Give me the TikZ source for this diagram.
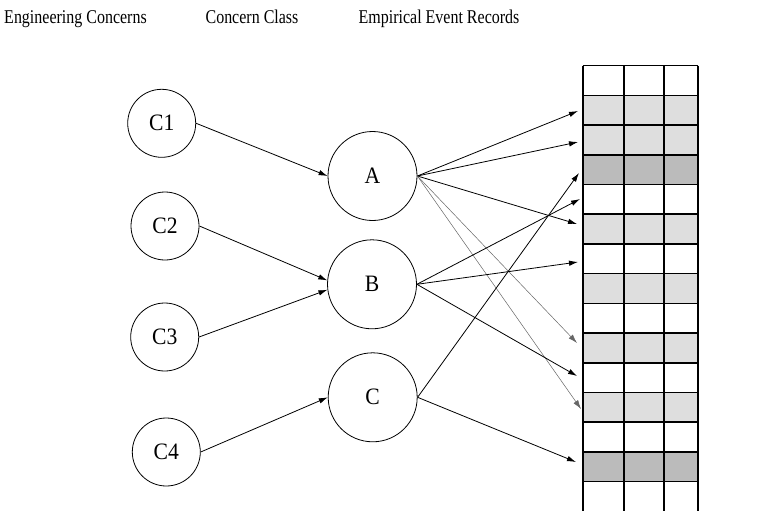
\documentclass[tikz,border=0pt]{standalone}
\usepackage{fontspec}
\setmainfont{Liberation Serif}
\newfontfamily\hdfont[FakeStretch=0.82]{Liberation Serif}
\newfontfamily\lbfont[FakeStretch=0.92]{Liberation Serif}
\usetikzlibrary{arrows.meta}
\definecolor{lightcell}{HTML}{DEDEDE}
\definecolor{darkcell}{HTML}{BBBBBB}
\begin{document}
\begin{tikzpicture}[x=1pt,y=-1pt,
  header/.style={anchor=base,font=\hdfont\fontsize{19.5}{21}\selectfont,inner sep=0pt},
  small/.style={circle,draw,line width=0.8pt,minimum size=68pt,inner sep=0pt,font=\lbfont\fontsize{23.5}{25}\selectfont},
  big/.style={circle,draw,line width=0.8pt,minimum size=89pt,inner sep=0pt,font=\lbfont\fontsize{23.5}{25}\selectfont},
  link/.style={line width=0.8pt,-{Latex[length=9pt,width=5.5pt]}},
  thinlink/.style={line width=0.5pt,draw=black!60,-{Latex[length=9pt,width=5.5pt]}},
  gridline/.style={line width=1.6pt}]
\useasboundingbox (0,0) rectangle (776,511);
% headers
\node[header] (h1) at (75.5,24) {Engineering Concerns};
\node[header] (h2) at (252,24) {Concern Class};
\node[header] (h3) at (439,24) {Empirical Event Records};
% grid fills
\def\gx{582.7}\def\gxr{697.7}
\foreach \i/\c in {1/lightcell,2/lightcell,3/darkcell,5/lightcell,7/lightcell,9/lightcell,11/lightcell,13/darkcell}{
  \fill[\c] (\gx,65.7+29.7*\i) rectangle (\gxr,65.7+29.7*\i+29.7);
}
% grid lines
\foreach \i in {0,...,14}{
  \draw[gridline] (\gx,65.7+29.7*\i) -- (\gxr,65.7+29.7*\i);
}
\foreach \x in {582.7,623.7,664,697.7}{
  \draw[gridline] (\x,65.7) -- (\x,512);
}
% concern nodes
\node[small] (C1) at (161.7,123.3) {C1};
\node[small] (C2) at (165,226) {C2};
\node[small] (C3) at (164.7,337) {C3};
\node[small] (C4) at (166.3,452) {C4};
\node[big] (A) at (372.5,176) {A};
\node[big] (B) at (372,284.3) {B};
\node[big] (C) at (372.7,397.3) {C};
% row targets
\coordinate (r1) at (578,111);
\coordinate (r2) at (578,142);
\coordinate (r3) at (579,173);
\coordinate (r4) at (580,199);
\coordinate (r5) at (577,224);
\coordinate (r6) at (578,262);
\coordinate (r9) at (577,343);
\coordinate (r10) at (577,376);
\coordinate (r11) at (581,409);
\coordinate (r13) at (576,462);
% connectors
\draw[link] (C1.east) -- (A.west);
\draw[link] (C2.east) -- (B.175);
\draw[link] (C3.east) -- (B.187);
\draw[link] (C4.east) -- (C.west);
\draw[link] (A.east) -- (r1);
\draw[link] (A.east) -- (r2);
\draw[link] (A.east) -- (r5);
\draw[thinlink] (A.east) -- (r9);
\draw[thinlink] (A.east) -- (r11);
\draw[link] (B.east) -- (r4);
\draw[link] (B.east) -- (r6);
\draw[link] (B.east) -- (r10);
\draw[link] (C.east) -- (r3);
\draw[link] (C.east) -- (r13);
\end{tikzpicture}
\end{document}
